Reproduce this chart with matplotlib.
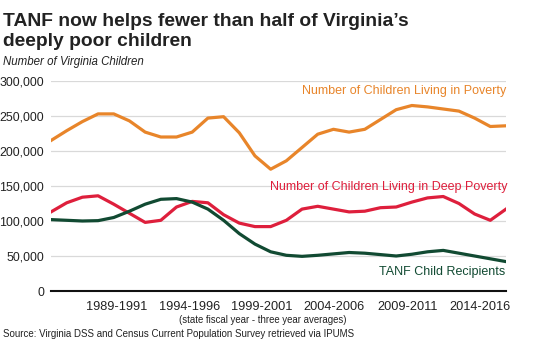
import matplotlib
matplotlib.use("Agg")
import matplotlib.pyplot as plt

# three-year averages, state fiscal years 1985-1987 ... 2014-2016
periods = ["%d-%d" % (y, y + 2) for y in range(1985, 2015)]

poverty = [215000, 229000, 242000, 253000, 253000, 243000, 227000, 220000, 220000, 227000,
           247000, 249000, 226000, 193000, 174000, 186000, 205000, 224000, 231000, 227000,
           231000, 245000, 259000, 265000, 263000, 260000, 257000, 247000, 235000, 236000]

deep_poverty = [113000, 126000, 134000, 136000, 124000, 111000, 98000, 101000, 120000, 128000,
                126000, 109000, 97000, 92000, 92000, 101000, 117000, 121000, 117000, 113000,
                114000, 119000, 120000, 127000, 133000, 135000, 125000, 110000, 101000, 117000]

tanf = [102000, 101000, 100000, 100500, 105000, 114000, 124000, 131000, 132000, 127000,
        117000, 101000, 82000, 67000, 56000, 51000, 49500, 51000, 53000, 55000,
        54000, 52000, 50000, 52500, 56000, 58000, 54000, 50000, 46000, 42000]

tick_labels = ["1989-1991", "1994-1996", "1999-2001", "2004-2006", "2009-2011", "2014-2016"]
tick_pos = [4.2, 8.85, 13.45, 18.05, 22.7, 27.35]

orange = "#E8852A"
red = "#DE1F3C"
green = "#114A32"
dark = "#222222"

plt.rcParams["font.family"] = ["Liberation Sans", "DejaVu Sans"]

fig = plt.figure(figsize=(5.4, 3.46), dpi=100)
ax = fig.add_axes([51 / 540, 1 - 291 / 346, 455 / 540, 210 / 346])

x = list(range(len(periods)))
ax.plot(x, poverty, color=orange, lw=2.3, solid_joinstyle="round", zorder=3)
ax.plot(x, deep_poverty, color=red, lw=2.3, solid_joinstyle="round", zorder=3)
ax.plot(x, tanf, color=green, lw=2.3, solid_joinstyle="round", zorder=3)

ax.set_xlim(0, len(periods) - 1)
ax.set_ylim(0, 300000)
ax.set_yticks(range(0, 300001, 50000))
ax.set_yticklabels(["{:,}".format(v) for v in range(0, 300001, 50000)], fontsize=8.9)
ax.set_xticks(tick_pos)
ax.set_xticklabels(tick_labels, fontsize=9.2)
ax.tick_params(axis="both", length=0, colors=dark)
ax.tick_params(axis="y", pad=5)
ax.tick_params(axis="x", pad=7)
ax.grid(axis="y", color="#D9D9D9", lw=0.9)
ax.set_axisbelow(True)
for s in ["left", "right", "top"]:
    ax.spines[s].set_visible(False)
ax.spines["bottom"].set_color("#111111")
ax.spines["bottom"].set_linewidth(1.5)

tr = ax.get_yaxis_transform()
ax.text(1.0, 286000, "Number of Children Living in Poverty", color=orange,
        fontsize=9.0, ha="right", va="center", transform=tr)
ax.text(1.004, 148000, "Number of Children Living in Deep Poverty", color=red,
        fontsize=9.0, ha="right", va="center", transform=tr)
ax.text(0.998, 27000, "TANF Child Recipients", color=green,
        fontsize=9.0, ha="right", va="center", transform=tr)

fig.text(3 / 540, 1 - 26 / 346, "TANF now helps fewer than half of Virginia\u2019s",
         fontsize=13.9, fontweight="bold", color=dark, ha="left", va="baseline")
fig.text(3 / 540, 1 - 45.5 / 346, "deeply poor children",
         fontsize=13.9, fontweight="bold", color=dark, ha="left", va="baseline")
fig.text(3 / 540, 1 - 65 / 346, "Number of Virginia Children", fontsize=8.3,
         style="italic", color=dark, ha="left", va="baseline")
fig.text(263 / 540, 1 - 323 / 346, "(state fiscal year - three year averages)",
         fontsize=6.9, color=dark, ha="center", va="baseline")
fig.text(3 / 540, 1 - 337 / 346,
         "Source: Virginia DSS and Census Current Population Survey retrieved via IPUMS",
         fontsize=7.0, color=dark, ha="left", va="baseline")

fig.savefig("out.png", dpi=100)
